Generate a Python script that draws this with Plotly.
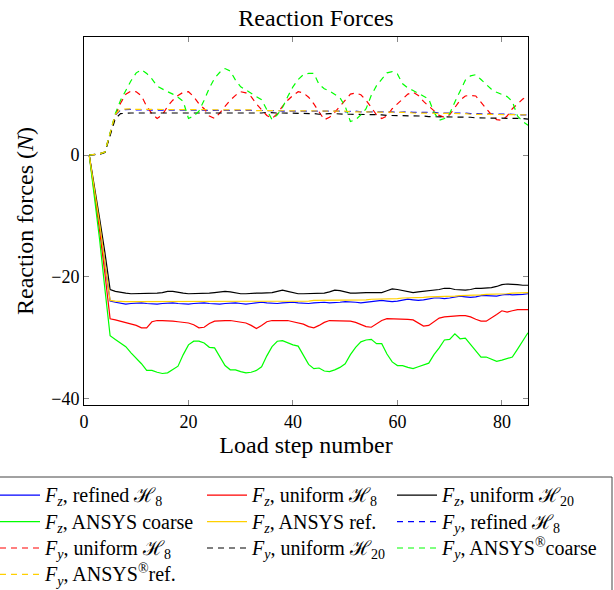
import plotly.graph_objects as go

steps = list(range(1, 86))

fz_refined_h8 = [0, -5.5, -11.5, -18.0, -24.0, -24.2, -24.4, -24.5, -24.4, -24.3,
                 -24.3, -24.4, -24.5, -24.5, -24.4, -24.3, -24.3, -24.4, -24.5, -24.5,
                 -24.4, -24.3, -24.3, -24.4, -24.5, -24.5, -24.4, -24.3, -24.3, -24.4,
                 -24.5, -24.4, -24.3, -24.2, -24.3, -24.4, -24.4, -24.3, -24.2, -24.2,
                 -24.3, -24.4, -24.4, -24.3, -24.2, -24.2, -24.3, -24.3, -24.2, -24.1,
                 -24.1, -24.2, -24.3, -24.2, -24.1, -24.0, -23.9, -24.0, -24.1, -24.0,
                 -23.8, -23.7, -23.8, -23.9, -23.8, -23.6, -23.5, -23.5, -23.6, -23.5,
                 -23.3, -23.2, -23.3, -23.4, -23.3, -23.1, -23.1, -23.2, -23.2, -23.0,
                 -22.9, -23.0, -23.0, -22.9, -22.8]

fz_uniform_h8 = [0, -6.0, -12.5, -19.5, -26.9, -27.1, -27.3, -27.5, -27.7, -28.0,
                 -28.4, -28.4, -27.4, -27.2, -27.2, -27.2, -27.3, -27.4, -27.5, -27.6,
                 -27.9, -28.4, -28.3, -27.7, -27.3, -27.2, -27.2, -27.2, -27.3, -27.4,
                 -27.6, -28.0, -28.5, -28.0, -27.4, -27.2, -27.2, -27.2, -27.2, -27.4,
                 -27.6, -27.8, -28.2, -28.4, -28.0, -27.5, -27.2, -27.2, -27.2, -27.2,
                 -27.3, -27.5, -27.8, -28.2, -28.3, -27.7, -27.2, -26.9, -26.9, -26.9,
                 -26.9, -27.0, -27.1, -27.6, -28.1, -28.0, -27.4, -26.8, -26.6, -26.5,
                 -26.4, -26.4, -26.4, -26.6, -27.0, -27.3, -27.3, -26.8, -26.2, -25.6,
                 -25.8, -25.6, -25.4, -25.4, -25.4]

fz_uniform_h20 = [0, -5.0, -10.5, -16.0, -22.1, -22.4, -22.6, -22.7, -22.8, -22.8,
                  -22.8, -22.8, -22.8, -22.7, -22.6, -22.4, -22.4, -22.6, -22.7, -22.8,
                  -22.8, -22.8, -22.8, -22.7, -22.6, -22.5, -22.4, -22.5, -22.7, -22.8,
                  -22.8, -22.7, -22.7, -22.7, -22.7, -22.6, -22.4, -22.2, -22.4, -22.6,
                  -22.8, -22.8, -22.8, -22.8, -22.7, -22.7, -22.5, -22.2, -22.3, -22.5,
                  -22.7, -22.7, -22.6, -22.6, -22.6, -22.6, -22.6, -22.3, -22.0, -22.1,
                  -22.3, -22.5, -22.6, -22.5, -22.4, -22.4, -22.3, -22.1, -21.9, -21.9,
                  -22.1, -22.2, -22.2, -22.1, -21.9, -21.9, -21.9, -21.8, -21.6, -21.3,
                  -21.2, -21.2, -21.3, -21.4, -21.4]

fz_ansys_coarse = [0, -7.0, -14.0, -22.0, -29.7, -30.3, -30.9, -31.5, -32.5, -33.4,
                   -34.3, -35.4, -35.4, -35.7, -35.9, -35.8, -35.3, -34.7, -32.8, -31.2,
                   -30.6, -30.6, -30.9, -31.6, -31.7, -33.2, -34.6, -35.3, -35.3, -35.6,
                   -35.8, -35.7, -35.4, -34.8, -33.0, -31.5, -30.6, -30.5, -30.9, -31.2,
                   -31.4, -33.0, -34.4, -35.1, -35.0, -35.5, -35.6, -35.3, -34.9, -34.3,
                   -32.8, -31.6, -30.7, -30.4, -30.3, -31.0, -31.0, -32.7, -34.0, -34.6,
                   -34.6, -34.9, -35.1, -34.8, -34.5, -34.2, -32.8, -31.7, -30.4, -30.3,
                   -29.4, -30.2, -30.1, -31.1, -32.2, -33.2, -33.2, -33.6, -33.9, -33.7,
                   -33.5, -33.2, -31.9, -30.5, -29.2]

fz_ansys_ref = [0, -5.4, -11.3, -17.7, -23.9, -24.0, -24.1, -24.1, -24.1, -24.1,
                -24.1, -24.1, -24.1, -24.1, -24.1, -24.1, -24.1, -24.1, -24.1, -24.1,
                -24.1, -24.1, -24.1, -24.1, -24.1, -24.1, -24.1, -24.1, -24.1, -24.1,
                -24.1, -24.1, -24.0, -24.0, -24.0, -24.0, -24.0, -24.0, -24.0, -24.0,
                -24.0, -24.0, -24.0, -23.9, -23.9, -23.9, -23.9, -23.9, -23.9, -23.8,
                -23.8, -23.8, -23.8, -23.8, -23.7, -23.7, -23.7, -23.6, -23.6, -23.6,
                -23.5, -23.5, -23.5, -23.4, -23.4, -23.3, -23.3, -23.3, -23.2, -23.2,
                -23.2, -23.1, -23.1, -23.0, -23.0, -23.0, -22.9, -22.9, -22.9, -22.8,
                -22.8, -22.7, -22.7, -22.6, -22.6]

fy_refined_h8 = [0, 0.1, 0.2, 0.5, 3.6, 6.6, 7.4, 7.5, 7.5, 7.4,
                 7.4, 7.4, 7.4, 7.4, 7.3, 7.3, 7.4, 7.4, 7.4, 7.3,
                 7.3, 7.3, 7.4, 7.4, 7.4, 7.3, 7.3, 7.3, 7.4, 7.4,
                 7.3, 7.3, 7.3, 7.3, 7.4, 7.3, 7.3, 7.2, 7.2, 7.3,
                 7.3, 7.3, 7.2, 7.2, 7.2, 7.3, 7.3, 7.2, 7.2, 7.1,
                 7.2, 7.2, 7.1, 7.1, 7.1, 7.2, 7.2, 7.1, 7.1, 7.0,
                 7.1, 7.1, 7.0, 7.0, 7.0, 7.1, 7.0, 6.9, 6.9, 6.9,
                 7.0, 6.9, 6.9, 6.8, 6.8, 6.8, 6.8, 6.7, 6.7, 6.7,
                 6.7, 6.7, 6.6, 6.6, 6.6]

fy_uniform_h8 = [0, 0.1, 0.2, 0.5, 3.5, 6.5, 8.5, 10.0, 10.5, 10.4,
                 9.7, 8.0, 6.8, 6.0, 6.6, 8.0, 9.0, 9.8, 10.3, 10.4,
                 9.6, 8.4, 7.6, 6.4, 6.0, 6.9, 8.0, 9.0, 9.8, 10.4,
                 10.2, 9.6, 8.4, 7.4, 6.5, 6.0, 6.8, 8.0, 9.0, 9.8,
                 10.4, 10.2, 9.5, 8.4, 7.2, 5.8, 6.2, 7.0, 8.0, 9.0,
                 10.0, 10.2, 9.9, 9.0, 7.8, 6.6, 6.0, 6.4, 7.6, 8.4,
                 9.2, 10.0, 10.3, 9.8, 8.8, 8.0, 7.2, 6.5, 6.2, 6.6,
                 7.8, 9.0, 9.7, 9.8, 9.7, 8.6, 7.5, 6.6, 5.8, 5.7,
                 6.4, 7.6, 8.4, 9.2, 9.6]

fy_uniform_h20 = [0, 0.05, 0.1, 0.4, 3.2, 6.0, 6.8, 6.9, 6.9, 6.9,
                  6.9, 6.8, 6.8, 6.8, 6.9, 6.9, 6.9, 6.8, 6.8, 6.8,
                  6.9, 6.9, 6.9, 6.8, 6.8, 6.8, 6.9, 6.9, 6.9, 6.8,
                  6.8, 6.9, 6.9, 6.9, 7.0, 6.9, 6.9, 6.9, 6.9, 6.9,
                  6.8, 6.8, 6.8, 6.8, 6.7, 6.8, 6.8, 6.8, 6.7, 6.7,
                  6.7, 6.7, 6.6, 6.6, 6.6, 6.6, 6.6, 6.5, 6.5, 6.5,
                  6.5, 6.4, 6.4, 6.4, 6.4, 6.3, 6.3, 6.3, 6.3, 6.2,
                  6.2, 6.2, 6.2, 6.2, 6.1, 6.1, 6.1, 6.1, 6.0, 6.0,
                  6.0, 6.0, 6.0, 6.0, 5.9]

fy_ansys_coarse = [0, 0.1, 0.2, 0.5, 3.5, 6.8, 9.0, 10.6, 12.2, 13.5,
                   14.0, 13.4, 12.5, 11.3, 10.8, 10.4, 10.0, 9.5, 8.8, 6.0,
                   6.4, 7.2, 9.0, 11.0, 12.6, 13.6, 14.2, 13.8, 12.3, 11.2,
                   10.7, 10.1, 9.6, 9.1, 7.5, 5.8, 6.6, 7.8, 9.6, 11.2,
                   12.4, 13.2, 13.4, 13.4, 11.6, 10.9, 10.5, 10.0, 9.4, 8.0,
                   5.5, 5.8, 6.6, 7.6, 9.8, 11.4, 12.4, 13.5, 13.7, 13.3,
                   11.7, 11.0, 10.6, 10.1, 9.6, 9.2, 7.0, 5.7, 6.0, 6.8,
                   8.7, 10.6, 12.3, 13.0, 13.2, 12.4, 11.6, 10.8, 10.3, 9.9,
                   9.6, 8.8, 6.4, 5.5, 4.9]

fy_ansys_ref = [0, 0.1, 0.2, 0.5, 3.6, 6.7, 7.5, 7.6, 7.6, 7.5,
                7.5, 7.5, 7.5, 7.5, 7.5, 7.5, 7.5, 7.5, 7.5, 7.4,
                7.4, 7.4, 7.4, 7.4, 7.4, 7.4, 7.4, 7.4, 7.4, 7.4,
                7.4, 7.4, 7.3, 7.3, 7.3, 7.3, 7.3, 7.3, 7.3, 7.3,
                7.3, 7.3, 7.3, 7.2, 7.2, 7.2, 7.2, 7.2, 7.2, 7.2,
                7.1, 7.1, 7.1, 7.1, 7.1, 7.1, 7.0, 7.0, 7.0, 7.0,
                7.0, 7.0, 6.9, 6.9, 6.9, 6.9, 6.9, 6.8, 6.8, 6.8,
                6.8, 6.8, 6.8, 6.7, 6.7, 6.7, 6.7, 6.7, 6.7, 6.7,
                6.6, 6.6, 6.6, 6.6, 6.6]

H = "\u210B"


def lbl(txt):
    return "<span style='font-size:20px'>" + txt + "</span>"


series = [
    ("<i>F<sub>z</sub></i>, refined " + H + "<sub>8</sub>", fz_refined_h8, "#0000FF", "solid", "legend"),
    ("<i>F<sub>z</sub></i>, uniform " + H + "<sub>8</sub>", fz_uniform_h8, "#FF0000", "solid", "legend2"),
    ("<i>F<sub>z</sub></i>, uniform " + H + "<sub>20</sub>", fz_uniform_h20, "#000000", "solid", "legend3"),
    ("<i>F<sub>z</sub></i>, ANSYS coarse", fz_ansys_coarse, "#00FF00", "solid", "legend"),
    ("<i>F<sub>z</sub></i>, ANSYS ref.", fz_ansys_ref, "#FFD000", "solid", "legend2"),
    ("<i>F<sub>y</sub></i>, refined " + H + "<sub>8</sub>", fy_refined_h8, "#0000FF", "6px,5px", "legend3"),
    ("<i>F<sub>y</sub></i>, uniform " + H + "<sub>8</sub>", fy_uniform_h8, "#FF0000", "6px,5px", "legend"),
    ("<i>F<sub>y</sub></i>, uniform " + H + "<sub>20</sub>", fy_uniform_h20, "#000000", "6px,5px", "legend2"),
    ("<i>F<sub>y</sub></i>, ANSYS<sup>®</sup>coarse", fy_ansys_coarse, "#00FF00", "6px,5px", "legend3"),
    ("<i>F<sub>y</sub></i>, ANSYS<sup>®</sup>ref.", fy_ansys_ref, "#FFD000", "6px,5px", "legend"),
]

fig = go.Figure()
for name, vals, color, dash, leg in series:
    fig.add_trace(go.Scatter(x=steps, y=vals, mode="lines", name=lbl(name),
                             line=dict(color=color, width=1.2, dash=dash),
                             legend=leg))

FONT = "Liberation Serif"
W, Hh = 614, 590
L, R, T, B = 84, 86, 37, 185
pw, ph = W - L - R, Hh - T - B


def px2x(px):
    return (px - L) / pw


def py2y(py):
    return (Hh - B - py) / ph


leg_common = dict(orientation="v", xref="paper", yref="paper",
                  xanchor="left", yanchor="top", y=py2y(477),
                  bgcolor="rgba(0,0,0,0)", borderwidth=0,
                  font=dict(family=FONT, size=18, color="black"),
                  itemwidth=40, tracegroupgap=0)

fig.update_layout(
    width=W, height=Hh,
    margin=dict(l=L, r=R, t=T, b=B, autoexpand=False),
    paper_bgcolor="white", plot_bgcolor="white",
    font=dict(family=FONT, color="black"),
    title=dict(text="Reaction Forces", x=316 / W, xref="container", xanchor="center",
               y=1 - 18 / Hh, yref="container", yanchor="middle",
               font=dict(family=FONT, size=24, color="black")),
    legend=dict(leg_common, x=px2x(-5)),
    legend2=dict(leg_common, x=px2x(202)),
    legend3=dict(leg_common, x=px2x(392)),
    showlegend=True,
)

fig.update_xaxes(range=[0, 85], tickvals=[0, 20, 40, 60, 80],
                 ticks="inside", ticklen=5, tickcolor="#888", tickwidth=1,
                 showline=True, linecolor="black", linewidth=1, mirror="allticks",
                 showgrid=False, zeroline=False,
                 tickfont=dict(family=FONT, size=18, color="black"),
                 title=dict(text="Load step number", standoff=3,
                            font=dict(family=FONT, size=24, color="black")))
fig.update_yaxes(range=[-41.08, 19.39], tickvals=[-40, -20, 0],
                 ticktext=["\u221240", "\u221220", "0"],
                 ticks="inside", ticklen=5, tickcolor="#888", tickwidth=1,
                 showline=True, linecolor="black", linewidth=1, mirror="allticks",
                 showgrid=False, zeroline=False,
                 tickfont=dict(family=FONT, size=18, color="black"),
                 title=dict(text="Reaction forces (<i>N</i>)", standoff=10,
                            font=dict(family=FONT, size=24, color="black")))

# legend frame
fig.add_shape(type="rect", xref="paper", yref="paper",
              x0=px2x(-10), x1=px2x(612),
              y0=py2y(477), y1=py2y(620),
              line=dict(color="#444", width=1), fillcolor="rgba(0,0,0,0)")

fig.write_html("out.html", config={"displayModeBar": False},
               post_script="document.body.style.margin='0';")
